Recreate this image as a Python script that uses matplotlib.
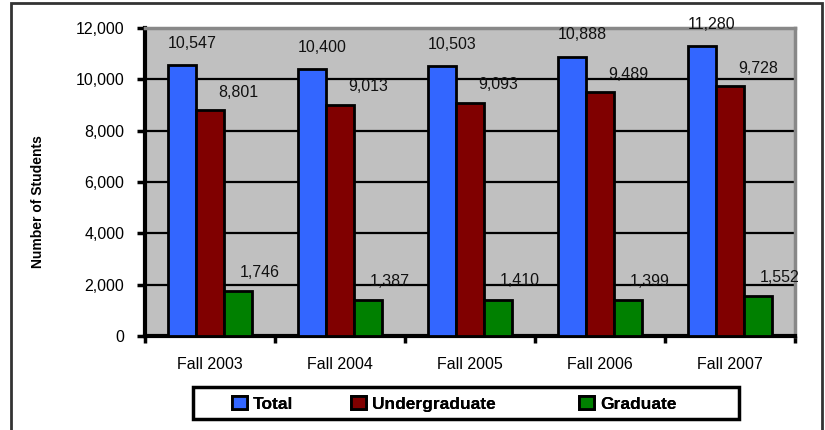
import matplotlib
matplotlib.use('Agg')
import matplotlib.pyplot as plt
import numpy as np
from matplotlib.patches import Rectangle

# ── datos ─────────────────────────────────────────────────────────────────────
semestres = ['Fall 2003', 'Fall 2004', 'Fall 2005', 'Fall 2006', 'Fall 2007']
total = [10547, 10400, 10503, 10888, 11280]
pregrado = [8801, 9013, 9093, 9489, 9728]
posgrado = [1746, 1387, 1410, 1399, 1552]
series = ['Total', 'Undergraduate', 'Graduate']
colores = ['#3366FF', '#800000', '#008000']

plt.rcParams['font.family'] = ['Liberation Sans', 'DejaVu Sans']

fig = plt.figure(figsize=(8.25, 4.3), dpi=100)
ax = fig.add_axes([145/825, 1 - 336/430, 650/825, 308/430])
ax.set_facecolor('#C0C0C0')

x = np.arange(len(semestres))
w = 0.215
# desplazamiento de etiquetas (px) por serie, como lo pinta Excel
dx = [10, 28, 22]
dy = [22, 18, 19]
barras = []
for k, (vals, col) in enumerate(zip([total, pregrado, posgrado], colores)):
    pos = x + (k - 1) * w
    b = ax.bar(pos, vals, width=w, color=col, edgecolor='black', linewidth=2,
               label=series[k], zorder=3)
    barras.append(b)
    for p, v in zip(pos, vals):
        ax.annotate('{:,}'.format(v), (p, v), xytext=(dx[k] * 0.72, dy[k] * 0.72),
                    textcoords='offset points', ha='center', va='center',
                    fontsize=11.5, color='#111111', zorder=4)

ax.set_xlim(-0.5, 4.5)
ax.set_ylim(0, 12000)
ax.set_yticks(range(0, 12001, 2000))
ax.set_yticklabels(['{:,}'.format(v) for v in range(0, 12001, 2000)], fontsize=11.5)
ax.yaxis.grid(True, color='black', linewidth=1.6, zorder=1)
ax.set_axisbelow(True)

# ticks del eje x entre grupos, etiquetas centradas
ax.set_xticks(np.arange(-0.5, 5, 1))
ax.set_xticklabels([])
ax.set_xticks(x, minor=True)
ax.set_xticklabels(semestres, minor=True, fontsize=11.5)
ax.tick_params(axis='x', which='minor', length=0, pad=15)
ax.tick_params(axis='x', which='major', length=5, width=2.5, direction='out')
ax.tick_params(axis='y', length=6, width=2.5, direction='out', pad=9)

for s in ['left', 'bottom']:
    ax.spines[s].set_linewidth(3)
    ax.spines[s].set_color('black')
for s in ['top', 'right']:
    ax.spines[s].set_linewidth(2.5)
    ax.spines[s].set_color('#888888')

fig.text(38/825, 1 - 202/430, 'Number of Students', rotation=90, ha='center',
         va='center', fontsize=10, fontweight='bold')

# leyenda: caja fija y una entrada por serie en su posicion
y_leg = 1 - 404/430
fig.patches.append(Rectangle((193/825, 1 - 419/430), 546/825, 32/430,
                             transform=fig.transFigure, fill=False,
                             edgecolor='black', linewidth=2.5))
for b, nombre, xl in zip(barras, series, [232, 351, 579]):
    lg = fig.legend([b], [nombre], loc='center left',
                    bbox_to_anchor=(xl/825, y_leg), frameon=False,
                    handlelength=0.85, handleheight=0.7, handletextpad=0.35,
                    borderpad=0, borderaxespad=0,
                    prop={'weight': 'bold', 'size': 12.5})
    fig.add_artist(lg)

# marco exterior del grafico
fig.patches.append(Rectangle((11/825, -0.05), 811/825, 1.05 - 3/430,
                             transform=fig.transFigure, fill=False,
                             edgecolor='#333333', linewidth=2))

fig.savefig('out.png', dpi=100)
